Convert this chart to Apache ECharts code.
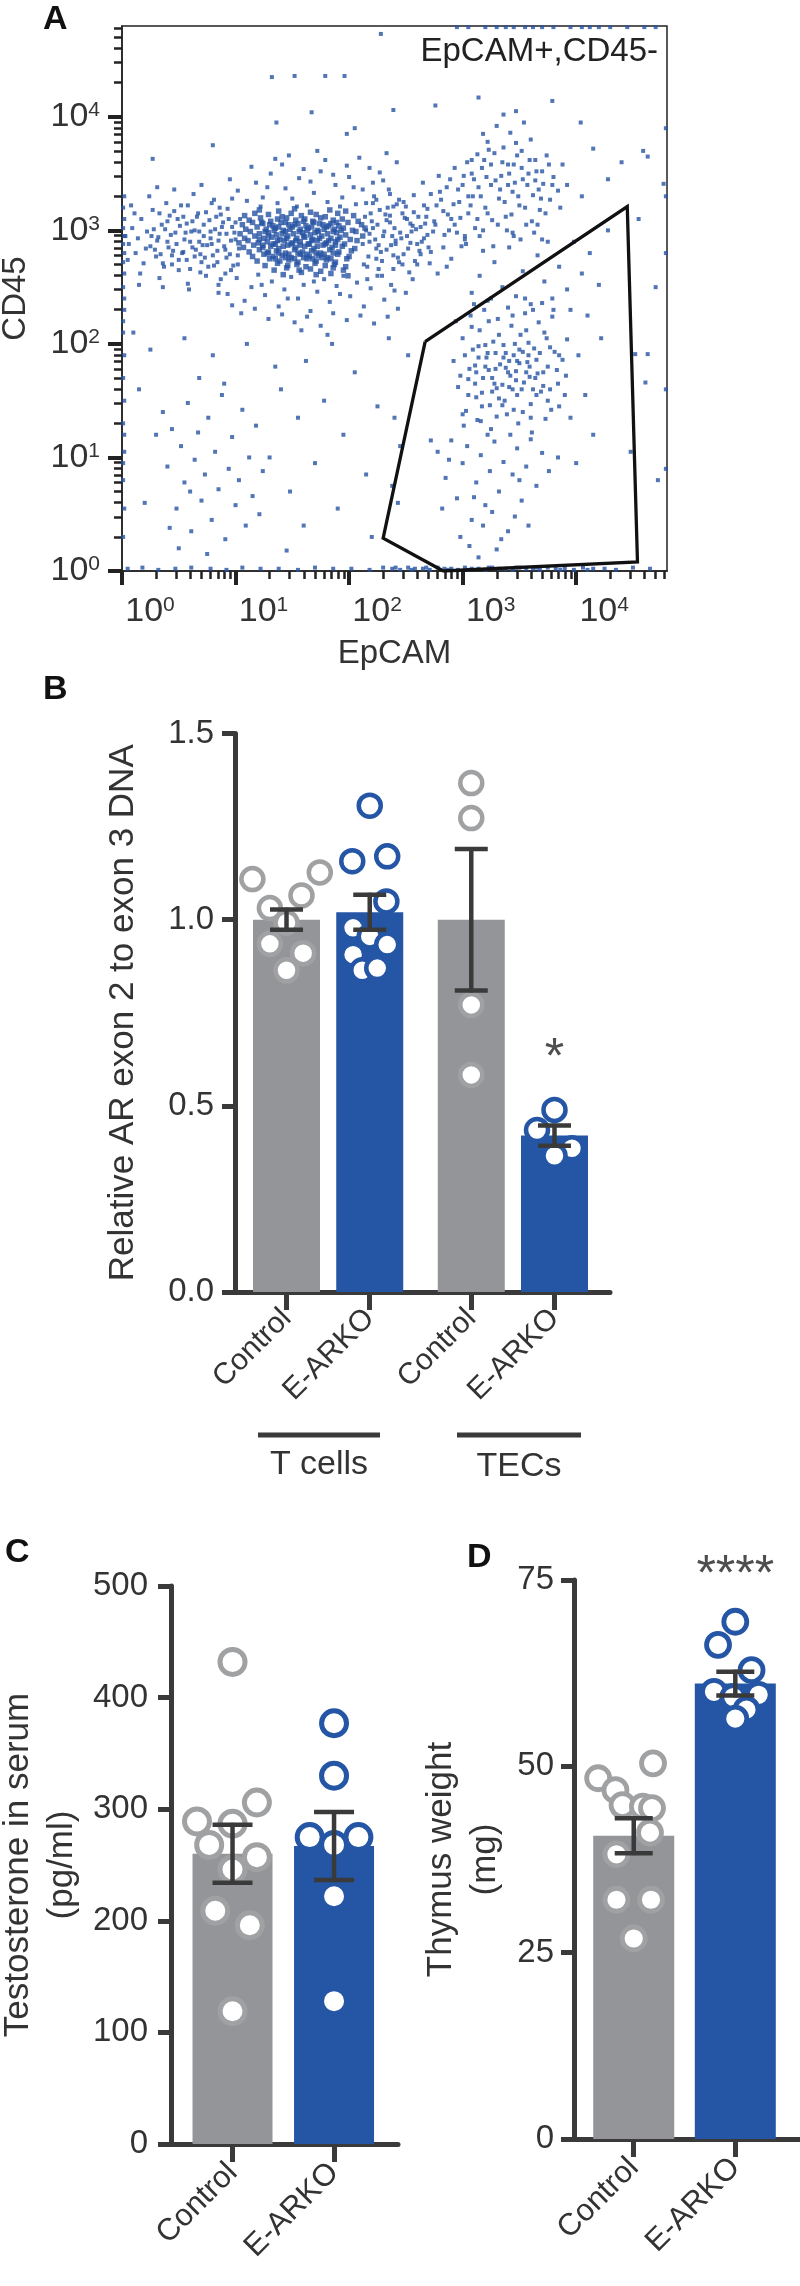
<!DOCTYPE html>
<html><head><meta charset="utf-8">
<script src="https://cdn.jsdelivr.net/npm/echarts@6/dist/echarts.min.js"></script>
<style>html,body{margin:0;padding:0;background:#fff}#c{width:800px;height:2286px}</style>
</head><body><div id="c"></div>
<script>
// ---------- Panel A : flow cytometry events (log10 units: [EpCAM, CD45]) ----------
const decadeTicks = [0, 1, 2, 3, 4];
const flowCore = [1.21,3.18,1.38,3.17,1.52,3.19,1.66,3.16,1.83,3.18,1.97,3.17,
1.08,3.13,1.17,3.15,1.29,3.14,1.41,3.12,1.49,3.15,1.58,3.13,1.71,3.14,1.79,3.12,1.90,3.15,2.04,3.13,
1.12,3.09,1.22,3.11,1.31,3.08,1.37,3.10,1.45,3.11,1.53,3.09,1.61,3.10,1.68,3.08,1.75,3.11,1.86,3.09,1.94,3.10,2.08,3.08,
1.06,3.05,1.15,3.07,1.24,3.06,1.33,3.04,1.40,3.07,1.47,3.05,1.55,3.06,1.62,3.04,1.69,3.07,1.77,3.05,1.84,3.06,1.91,3.04,1.99,3.07,2.11,3.05,
1.09,3.01,1.19,3.03,1.27,3.01,1.35,3.02,1.42,3.00,1.50,3.03,1.57,3.01,1.64,3.02,1.72,3.00,1.80,3.03,1.87,3.01,1.95,3.02,2.03,3.00,2.14,3.02,
1.04,2.97,1.13,2.99,1.21,2.97,1.29,2.98,1.36,2.96,1.44,2.99,1.51,2.97,1.59,2.98,1.66,2.96,1.73,2.99,1.81,2.97,1.89,2.98,1.97,2.96,2.06,2.99,
1.08,2.93,1.17,2.95,1.25,2.93,1.32,2.94,1.39,2.92,1.46,2.95,1.54,2.93,1.61,2.94,1.68,2.92,1.76,2.95,1.84,2.93,1.92,2.94,2.01,2.92,2.12,2.95,
1.03,2.89,1.11,2.91,1.20,2.89,1.28,2.90,1.35,2.88,1.43,2.91,1.50,2.89,1.57,2.90,1.65,2.88,1.72,2.91,1.80,2.89,1.88,2.90,1.96,2.88,2.07,2.91,
1.07,2.85,1.16,2.87,1.24,2.85,1.31,2.86,1.38,2.84,1.46,2.87,1.53,2.85,1.61,2.86,1.69,2.84,1.77,2.87,1.85,2.85,1.94,2.86,2.05,2.84,
1.12,2.81,1.21,2.83,1.29,2.81,1.36,2.82,1.44,2.80,1.52,2.83,1.59,2.81,1.67,2.82,1.75,2.80,1.83,2.83,1.91,2.81,2.02,2.82,
1.15,2.77,1.25,2.79,1.33,2.77,1.41,2.78,1.49,2.76,1.57,2.79,1.65,2.77,1.73,2.78,1.81,2.76,1.90,2.79,2.00,2.77,
1.19,2.73,1.30,2.75,1.39,2.73,1.47,2.74,1.55,2.72,1.63,2.75,1.71,2.73,1.80,2.74,1.88,2.72,1.98,2.75,
1.26,2.69,1.37,2.71,1.46,2.69,1.54,2.70,1.62,2.68,1.70,2.71,1.79,2.69,1.87,2.70,1.97,2.68,
1.34,2.65,1.45,2.67,1.56,2.65,1.66,2.66,1.75,2.64,1.86,2.67,1.95,2.65,
1.42,2.61,1.58,2.63,1.71,2.61,1.84,2.62,1.99,2.60];
const flowCoreFill = [1.23,3.07,1.30,3.05,1.38,3.03,1.44,3.07,1.52,3.05,1.60,3.08,1.67,3.03,1.74,3.06,1.82,3.04,1.89,3.07,
1.26,2.99,1.34,3.00,1.41,2.97,1.48,3.01,1.56,2.99,1.63,3.00,1.70,2.98,1.78,3.01,1.86,2.99,1.93,3.00,
1.21,2.92,1.29,2.95,1.37,2.91,1.45,2.93,1.53,2.91,1.60,2.95,1.67,2.91,1.74,2.93,1.82,2.91,1.90,2.92,
1.24,2.87,1.33,2.88,1.42,2.86,1.49,2.88,1.57,2.87,1.64,2.88,1.72,2.86,1.79,2.88,1.88,2.87,
1.28,2.80,1.38,2.80,1.47,2.79,1.55,2.80,1.63,2.79,1.71,2.80,1.78,2.79,1.86,2.80,
1.35,2.75,1.44,2.76,1.52,2.75,1.60,2.76,1.68,2.75,1.76,2.76,1.84,2.75];
const flowLeft = [0.03,2.95,0.06,2.88,0.09,3.02,0.12,2.80,0.14,2.93,0.17,3.10,0.19,2.71,0.22,2.99,0.25,2.86,0.27,3.18,0.30,2.77,0.32,2.94,0.35,3.05,0.37,2.68,0.40,2.90,0.42,3.13,0.45,2.82,0.47,2.98,0.50,2.74,0.52,3.22,0.55,2.92,0.57,3.06,0.60,2.66,0.62,2.85,0.64,3.00,0.67,3.15,0.69,2.79,0.72,2.95,0.74,2.60,0.77,3.09,0.79,2.88,0.81,3.27,0.84,2.72,0.86,2.97,0.88,3.03,0.91,2.83,0.93,3.19,0.96,2.91,0.98,2.69,1.00,3.07,1.02,2.78,0.05,2.74,0.11,3.15,0.16,2.62,0.21,2.84,0.28,3.01,0.33,2.58,0.39,3.24,0.44,2.70,0.49,3.10,0.54,2.81,0.58,2.53,0.63,3.32,0.68,2.90,0.73,2.76,0.78,2.99,0.83,3.12,0.87,2.57,0.92,2.76,0.97,3.28,0.08,3.22,0.24,3.30,0.36,2.50,0.46,3.36,0.59,2.48,0.70,3.40,0.85,2.45,0.95,3.45,0.15,2.52,0.31,3.38];
const flowLeftMore = [0.31,2.91,0.34,2.79,0.38,3.01,0.41,2.85,0.43,2.96,0.48,2.88,0.51,3.04,0.53,2.80,0.56,2.98,0.60,2.90,0.62,3.08,0.65,2.83,0.68,2.99,0.70,2.72,0.72,3.05,0.75,2.87,0.78,2.93,0.80,2.78,0.82,3.01,0.85,2.91,0.87,3.14,0.90,2.86,0.92,2.97,0.95,2.79,0.97,3.03,1.00,2.92,1.03,2.84,0.36,2.71,0.46,3.17,0.57,2.74,0.66,3.12,0.76,2.68,0.86,3.20,0.96,2.65,1.04,3.10,0.40,3.08,0.50,2.65,0.61,2.99,0.71,2.87,0.81,2.69,0.89,3.07,0.99,2.98,0.44,2.78,0.54,3.12,0.64,2.77,0.74,3.16,0.84,2.82,0.94,3.10,1.02,2.70,0.33,3.15,0.58,3.22,0.79,3.24,0.29,2.83,0.26,2.95,0.69,2.63,0.91,2.62];
const flowAbove = [1.02,3.35,1.10,3.26,1.18,3.42,1.24,3.29,1.31,3.50,1.37,3.24,1.44,3.37,1.50,3.28,1.56,3.46,1.63,3.22,1.69,3.33,1.75,3.52,1.81,3.25,1.88,3.40,1.94,3.29,2.00,3.47,2.06,3.23,2.12,3.36,2.18,3.55,2.24,3.27,2.30,3.44,2.36,3.32,2.42,3.60,2.48,3.25,1.14,3.56,1.28,3.38,1.41,3.58,1.54,3.21,1.66,3.43,1.79,3.62,1.92,3.21,2.04,3.38,2.15,3.24,2.27,3.51,2.39,3.21,1.47,3.66,1.72,3.70,2.09,3.64,2.33,3.68,1.22,3.21,1.60,3.54,1.98,3.57,2.21,3.42,1.35,3.63,1.86,3.49];
const flowBelow = [0.85,2.52,0.93,2.44,1.01,2.58,1.08,2.38,1.14,2.50,1.20,2.61,1.26,2.43,1.32,2.55,1.38,2.33,1.43,2.48,1.49,2.59,1.55,2.40,1.60,2.52,1.66,2.29,1.72,2.46,1.78,2.57,1.83,2.37,1.89,2.51,1.95,2.60,2.01,2.42,2.07,2.54,2.13,2.33,2.19,2.49,2.25,2.60,2.31,2.39,2.37,2.52,2.43,2.31,2.50,2.45,2.56,2.57,1.05,2.27,1.17,2.31,1.29,2.22,1.41,2.26,1.52,2.19,1.63,2.24,1.75,2.16,1.86,2.27,1.98,2.21,2.10,2.25,2.22,2.18,2.34,2.24,0.97,2.34,1.23,2.52,1.46,2.40,1.69,2.55,1.92,2.44,2.16,2.57,2.40,2.47,1.58,2.12,1.81,2.08];
const flowRight = [2.14,3.12,2.18,2.90,2.21,3.02,2.24,2.75,2.27,3.18,2.30,2.95,2.33,2.83,2.36,3.07,2.39,2.66,2.42,3.23,2.45,2.98,2.48,2.79,2.51,3.10,2.54,2.89,2.57,3.31,2.60,2.70,2.63,3.03,2.66,2.93,2.69,3.19,2.72,2.81,2.75,3.08,2.78,2.62,2.81,3.27,2.84,2.96,2.87,3.14,2.90,2.75,2.93,3.05,2.96,3.36,2.99,2.86,2.16,2.68,2.22,3.30,2.29,2.60,2.35,3.36,2.41,2.88,2.47,3.15,2.53,2.63,2.59,3.01,2.65,3.42,2.71,2.71,2.77,3.22,2.83,2.85,2.89,3.45,2.95,2.98,2.20,3.08,2.26,2.87,2.32,3.14,2.38,2.95,2.44,2.72,2.50,3.21,2.56,3.04,2.62,2.82,2.68,3.12,2.74,2.99,2.80,3.34,2.86,2.68,2.92,3.23,2.98,3.11,3.02,2.92,3.05,3.30];
const flowRightMore = [2.12,2.88,2.15,3.00,2.17,2.77,2.19,3.15,2.23,2.92,2.25,3.05,2.28,2.81,2.31,2.99,2.34,3.20,2.37,2.87,2.40,3.02,2.43,2.76,2.46,2.93,2.49,3.11,2.52,2.84,2.55,2.99,2.58,2.73,2.61,3.12,2.64,2.90,2.67,3.06,2.70,2.85,2.13,2.70,2.21,3.24,2.26,2.66,2.33,3.09,2.39,2.78,2.44,3.27,2.51,2.95,2.57,3.16,2.63,2.79,2.69,2.96,2.18,2.97,2.29,2.73,2.36,3.13,2.47,2.70,2.54,3.06,2.60,2.88,2.66,3.22,2.24,2.84,2.41,2.91];
const flowUpper = [3.01,3.48,3.05,3.15,3.08,3.62,3.11,3.02,3.14,3.38,3.17,3.55,3.20,3.20,3.23,3.71,3.26,3.09,3.29,3.44,3.32,3.28,3.35,3.60,3.38,3.12,3.41,3.50,3.44,3.34,3.47,3.77,3.50,3.22,3.53,3.45,3.56,3.05,3.59,3.62,3.62,3.31,3.65,3.52,3.68,3.18,3.71,3.41,3.74,3.66,3.77,3.27,3.80,3.47,3.84,3.35,3.88,3.58,3.03,2.88,3.09,3.30,3.15,2.95,3.21,3.47,3.27,2.86,3.33,3.36,3.39,3.00,3.45,3.58,3.51,2.92,3.57,3.40,3.63,2.98,3.69,3.28,3.75,2.90,3.13,3.67,3.25,3.58,3.36,3.73,3.48,3.66,3.60,3.80,3.18,3.85,3.30,3.92,3.42,3.86,3.54,3.95,3.36,4.02,3.47,4.05,3.22,3.78,3.40,3.40,3.52,3.55,3.64,3.44,3.86,3.20,3.92,3.40,3.08,3.50];
const flowUpperMore = [2.72,3.32,2.76,3.05,2.79,3.48,2.83,3.17,2.86,3.38,2.90,3.10,2.93,3.55,2.97,3.25,3.00,3.40,3.04,3.60,3.07,3.22,3.10,3.45,3.13,3.10,3.16,3.30,3.19,3.62,3.22,3.15,3.25,3.40,3.28,3.68,3.31,3.05,3.34,3.48,3.37,3.25,3.40,3.58,3.43,3.14,3.46,3.42,3.49,3.30,3.52,3.70,3.55,3.20,3.58,3.50,3.61,3.08,3.64,3.62,3.67,3.36,3.70,3.52,3.73,3.15,3.76,3.58,3.79,3.40,2.88,3.00,3.02,2.95,3.18,3.00,3.44,2.98,3.66,3.05];
const gatedDense = [2.92,1.85,2.96,1.62,3.00,2.05,3.03,1.41,3.06,1.78,3.09,1.95,3.12,1.53,3.15,2.12,3.18,1.70,3.21,1.88,3.24,1.46,3.27,2.02,3.30,1.61,3.33,1.82,3.36,1.99,3.39,1.38,3.42,1.72,3.45,1.90,3.48,1.55,3.51,2.08,3.54,1.66,3.57,1.84,3.60,1.47,3.63,1.96,3.66,1.74,3.69,1.58,3.72,2.10,3.75,1.80,3.78,1.42,3.81,1.93,3.84,1.65,3.88,1.86,3.92,2.04,
2.94,2.20,3.01,1.28,3.07,2.25,3.13,1.33,3.19,2.30,3.25,1.25,3.31,2.22,3.37,1.50,3.43,2.16,3.49,1.30,3.55,2.27,3.61,1.22,3.67,2.19,3.73,1.34,3.79,2.24,3.85,1.45,3.91,1.72,
3.05,1.69,3.11,1.81,3.17,1.57,3.23,1.77,3.29,1.92,3.35,1.64,3.41,1.85,3.47,1.76,3.53,1.93,3.59,1.71,3.65,1.86,3.71,1.63,3.77,1.97,3.83,1.77,3.26,1.70,3.38,1.79,3.44,1.60,3.50,1.83,3.56,1.75,3.32,1.52,3.20,1.99,3.62,1.60,3.46,2.00,3.14,1.88,3.58,2.01];
const gatedMore = [2.98,1.72,3.02,1.90,3.05,1.55,3.08,2.15,3.11,1.65,3.14,1.98,3.17,1.45,3.20,1.80,3.23,2.20,3.26,1.58,3.29,1.78,3.32,2.08,3.35,1.46,3.38,1.92,3.41,1.62,3.44,2.25,3.47,1.68,3.50,1.95,3.53,1.40,3.56,2.12,3.59,1.80,3.62,2.30,3.65,1.55,3.68,1.92,3.71,1.75,3.74,2.05,3.77,1.60,3.80,2.30,3.10,2.35,3.25,2.40,3.40,2.32,3.55,2.40,3.70,2.36,3.00,1.38,3.16,1.32,3.30,1.36,3.45,1.42,3.60,1.35,3.75,1.50,3.28,1.65,3.40,1.75,3.52,1.60,3.36,1.88,3.48,1.85,3.22,1.92,3.58,1.90,3.12,1.75,3.64,1.70,3.85,1.90,3.90,1.55];
const gatedTail = [2.78,1.05,2.85,0.82,2.90,1.15,2.95,0.64,3.00,0.95,3.04,1.10,3.08,0.45,3.12,0.78,3.16,1.02,3.20,0.58,3.24,0.88,3.28,1.14,3.32,0.70,3.36,0.96,3.40,0.35,3.44,0.85,3.48,1.08,3.52,0.62,3.56,0.92,3.60,1.16,3.65,0.75,3.70,1.04,3.76,0.88,2.82,0.55,2.98,0.30,3.06,0.22,3.18,0.40,3.26,0.52,3.34,0.28,3.46,0.48,3.58,0.40,3.10,0.65,2.88,0.98,3.42,1.20,3.22,1.20,2.72,1.15,3.84,1.00,3.50,0.80,3.14,0.12,3.30,0.19];
const gatedTop = [3.08,2.45,3.15,2.60,3.22,2.38,3.28,2.72,3.35,2.50,3.41,2.85,3.47,2.42,3.53,2.64,3.60,2.35,3.66,2.78,3.72,2.55,3.79,2.40,3.85,2.68,3.92,2.48,3.98,2.90,4.05,2.62,4.12,2.80,4.20,2.52,4.28,3.00,3.18,2.82,3.45,2.95,3.70,2.92,3.95,2.30,4.10,2.25,4.02,1.90,4.08,1.55,4.15,1.20,4.22,2.05,3.95,1.35,4.00,0.95];
const lowerLeft = [0.36,1.40,0.40,0.92,0.44,1.25,0.48,0.55,0.52,1.10,0.55,0.78,0.58,1.48,0.61,0.35,0.64,0.98,0.67,1.22,0.70,0.62,0.73,0.85,0.76,1.35,0.79,0.45,0.82,1.05,0.85,0.72,0.88,1.55,0.91,0.28,0.94,0.90,0.97,1.18,1.00,0.58,1.03,0.80,1.06,1.42,1.09,0.40,1.12,1.00,1.15,0.66,1.18,1.28,1.21,0.50,1.24,0.88,0.42,0.38,0.50,0.20,0.60,0.70,0.68,1.70,0.80,1.90,0.90,1.65,1.30,1.00,1.40,1.60,1.48,0.70,1.55,1.35,1.62,1.85,1.70,0.95,1.78,1.50,1.85,2.00,1.95,1.20,2.05,1.75,2.15,0.85,2.25,1.45,2.35,2.05,2.40,1.35,2.45,1.10,2.52,1.90,2.38,0.75,2.43,0.60,0.25,1.95,0.30,1.20,0.20,0.60,0.15,1.60,0.10,2.10,0.55,2.05,1.10,2.00,1.35,1.80,1.60,0.40,1.90,0.55,2.20,0.30,0.75,0.15,1.45,0.18];
const outliers = [1.32,4.35,1.52,4.36,1.79,4.36,1.96,4.36,1.67,4.04,1.36,3.95,1.98,3.85,2.39,4.06,2.28,4.73,0.27,3.63,3.14,4.17,3.79,4.14,2.76,4.10,4.04,3.95,4.59,3.70,4.63,3.65,4.77,3.41,4.61,1.66,4.52,1.91,4.63,1.91,4.48,1.05,4.55,3.10,4.70,2.50,4.72,0.80,4.40,3.60,4.28,3.45,4.15,3.72,4.05,3.30,2.05,3.90,0.80,3.75];
const edgeBottom = [0.05,0.02,0.18,0.03,0.32,0.01,0.47,0.02,0.61,0.03,0.78,0.02,0.92,0.01,1.06,0.03,1.22,0.02,1.38,0.02,1.55,0.01,1.70,0.03,1.86,0.02,2.02,0.02,2.18,0.01,2.30,0.03,2.38,0.02,2.45,0.01,2.52,0.03,2.58,0.02,2.65,0.02,2.71,0.01,2.78,0.03,2.84,0.02,2.90,0.02,2.96,0.01,3.02,0.03,3.08,0.02,3.14,0.02,3.20,0.01,3.26,0.03,3.32,0.02,3.38,0.02,3.44,0.01,3.50,0.03,3.56,0.02,3.62,0.02,3.68,0.01,3.75,0.03,3.82,0.02,3.90,0.02,3.98,0.01,4.06,0.03,4.15,0.02,4.25,0.02,4.35,0.01,4.50,0.03,4.65,0.02,2.41,0.03,2.55,0.01,2.68,0.03,2.87,0.01,3.05,0.01,3.23,0.03,3.47,0.03,3.65,0.03,3.86,0.01,4.10,0.01];
const edgeLeft = [0.01,0.30,0.02,0.55,0.01,0.80,0.02,1.05,0.01,1.30,0.02,1.50,0.01,1.70,0.02,1.90,0.01,2.10,0.02,2.30,0.01,2.50,0.02,2.62,0.01,2.72,0.02,2.80,0.01,2.88,0.02,2.95,0.01,3.02,0.02,3.10,0.01,3.20,0.02,3.30,0.01,2.20,0.02,1.20,0.01,0.95,0.02,2.40];
const edgeTopRight = [2.95,4.79,3.05,4.79,3.20,4.79,3.30,4.79,3.45,4.79,3.55,4.79,3.70,4.79,3.80,4.79,3.95,4.79,4.05,4.79,4.20,4.79,4.30,4.79,4.45,4.79,4.60,4.79,4.70,4.79,3.62,4.79,3.38,4.79,4.12,4.79,4.79,3.30,4.79,2.80,4.79,1.60,4.79,0.90,4.79,3.90];
const gateVertices = [[2.67,2.02],[4.45,3.21],[4.54,0.08],[2.83,0.00],[2.30,0.29],[2.67,2.02]];

// ---------- Panel B ----------
const bCats = ['Control', 'E-ARKO', 'Control', 'E-ARKO'];
const bMeans = [1.00, 1.02, 1.00, 0.42];
const bSem = [0.027, 0.047, 0.19, 0.027];
const bPoints = [
  [1.109, 1.031, 1.065, 1.127, 0.992, 0.935, 0.910, 0.864],
  [1.306, 1.157, 1.170, 1.049, 0.978, 0.955, 0.933, 0.906, 0.864, 0.870],
  [1.367, 1.273, 0.771, 0.583],
  [0.489, 0.435, 0.386, 0.366]];
const bGroups = ['T cells', 'TECs'];
const bSig = [null, null, null, '*'];

// ---------- Panel C ----------
const cCats = ['Control', 'E-ARKO'];
const cMeans = [260, 267];
const cSem = [26, 30.5];
const cPoints = [
  [432, 289, 306, 287, 268, 257, 246, 209, 196, 119],
  [377, 330, 275, 268, 275, 222, 128]];

// ---------- Panel D ----------
const dCats = ['Control', 'E-ARKO'];
const dMeans = [40.7, 61.1];
const dSem = [2.35, 1.6];
const dPoints = [
  [50.4, 48.4, 46.8, 44.8, 44.6, 44.4, 41.1, 38.2, 32.1, 32.1, 26.9],
  [69.4, 66.3, 62.9, 60.0, 59.3, 59.6, 57.6, 56.4]];
const dSig = [null, '****'];

// ---------- layout (not data) ----------
const bPos = [0, 1, 2.22, 3.22];
const cPos = [0, 1];
const bJitter = [[-0.41,-0.2,0.18,0.4,0,-0.2,0.2,0],[0,-0.21,0.21,0.2,-0.2,0,0.21,-0.2,-0.09,0.09],[0,0,0,0],[0,-0.21,0.21,0]];
const cJitter = [[0,-0.35,0.24,0,-0.23,0.24,0,-0.17,0.17,0],[0,0,-0.24,0,0.24,0,0]];
const dJitter = [[0.19,-0.35,-0.18,-0.11,0.09,0.18,0.16,-0.17,-0.17,0.17,0],[0,-0.17,0.16,-0.21,-0.02,0.23,0.11,0]];

const FONT = '"Liberation Sans", Arial, Helvetica, sans-serif';
const TXT = '#333';
const AX = '#3a3a3a';
const GRAY = '#939598', RING = '#a0a1a3', BLUE = '#2556a5';
const DOT = '#2553a2';

function pairs(flat){const o=[];for(let i=0;i<flat.length;i+=2)o.push([flat[i],flat[i+1]]);return o;}
const coreData = [].concat(pairs(flowCore),pairs(flowCoreFill));
const flowData = [].concat(pairs(flowLeft),pairs(flowLeftMore),pairs(flowAbove),pairs(flowBelow),
  pairs(flowRight),pairs(flowRightMore),pairs(flowUpper),pairs(flowUpperMore),pairs(gatedDense),pairs(gatedMore),pairs(gatedTail),
  pairs(gatedTop),pairs(lowerLeft),pairs(outliers),pairs(edgeBottom),pairs(edgeLeft),pairs(edgeTopRight));
const minorTicks = [];
for (let n=0;n<5;n++) for (let k=2;k<10;k++){const v=n+Math.log10(k); if(v<4.8) minorTicks.push(v);}

const sup = v => '{b|10}{s|' + v + '}';
const supRich = {b:{fontSize:34,fontFamily:FONT,color:TXT}, s:{fontSize:21,fontFamily:FONT,color:TXT,verticalAlign:'top'}};

function nameAt(pos, cats){return v => {let bi=0;pos.forEach((p,i)=>{if(Math.abs(p-v)<Math.abs(pos[bi]-v))bi=i;});return cats[bi];};}

function catX(grid, min, max, pos, cats, fs, margin){
  return {gridIndex:grid,type:'value',min:min,max:max,
    axisLine:{show:true,onZero:false,lineStyle:{color:AX,width:5}},
    axisTick:{show:true,customValues:pos,length:18,lineStyle:{color:AX,width:5}},
    axisLabel:{show:true,customValues:pos,formatter:nameAt(pos,cats),rotate:45,margin:margin,fontSize:fs,fontFamily:FONT,color:TXT},
    splitLine:{show:false}};
}
function valY(grid, max, interval, fmt, name, gap, margin){
  return {gridIndex:grid,type:'value',min:0,max:max,interval:interval,
    axisLine:{show:true,onZero:false,lineStyle:{color:AX,width:5}},
    axisTick:{show:true,length:13,lineStyle:{color:AX,width:5}},
    axisLabel:{formatter:fmt,fontSize:33,fontFamily:FONT,color:TXT,margin:margin},
    splitLine:{show:false},
    name:name,nameLocation:'middle',nameGap:gap,nameRotate:90,
    nameTextStyle:{fontSize:35,fontFamily:FONT,color:TXT,lineHeight:44,align:'center'}};
}
function errRender(cap){return function(params, api){
  const x=api.value(0), m=api.value(1), e=api.value(2);
  const t=api.coord([x,m+e]), b=api.coord([x,m-e]);
  const st={stroke:AX,lineWidth:4.5};
  return {type:'group',children:[
    {type:'line',shape:{x1:t[0],y1:t[1]-2,x2:b[0],y2:b[1]+2},style:st},
    {type:'line',shape:{x1:t[0]-cap,y1:t[1],x2:t[0]+cap,y2:t[1]},style:st},
    {type:'line',shape:{x1:b[0]-cap,y1:b[1],x2:b[0]+cap,y2:b[1]},style:st}]};
};}
function barSeries(ax, pos, means, width){
  return {type:'bar',xAxisIndex:ax,yAxisIndex:ax,barWidth:width,z:2,
    data:pos.map((p,i)=>({value:[p,means[i]],itemStyle:{color:i%2?BLUE:GRAY}}))};
}
function pointSeries(ax, pos, pts, jit, size, bw){
  const out=[];
  [0,1].forEach(g=>{
    const data=[];
    pos.forEach((p,i)=>{ if(i%2!==g) return; pts[i].forEach((v,j)=>data.push([p+jit[i][j],v])); });
    out.push({type:'scatter',xAxisIndex:ax,yAxisIndex:ax,z:3,symbol:'circle',symbolSize:size,data:data,
      itemStyle:{color:'#fff',borderColor:g?BLUE:RING,borderWidth:bw,opacity:1}});
  });
  return out;
}
function errSeries(ax, pos, means, sem, cap){
  return {type:'custom',xAxisIndex:ax,yAxisIndex:ax,z:10,renderItem:errRender(cap),
    encode:{x:0,y:1},data:pos.map((p,i)=>[p,means[i],sem[i]])};
}
function sigSeries(ax, marks){
  return {type:'scatter',xAxisIndex:ax,yAxisIndex:ax,z:11,symbolSize:1,itemStyle:{color:'rgba(0,0,0,0)'},clip:false,
    data:marks.map(m=>({value:[m[0],m[1]],label:{show:true,position:'inside',formatter:m[2],fontSize:50,fontFamily:FONT,color:'#222'}}))};
}

const chart = echarts.init(document.getElementById('c'), null, {renderer:'canvas'});
const option = {
  animation:false,
  backgroundColor:'#fff',
  grid:[
    {left:122,top:26,width:545,height:545,show:true,borderColor:'#222',borderWidth:1.5,outerBoundsMode:'none'},
    {left:235,top:733.5,width:375,height:558.5,outerBoundsMode:'none'},
    {left:171,top:1586,width:227,height:558,outerBoundsMode:'none'},
    {left:574,top:1580,width:226,height:559,outerBoundsMode:'none'}],
  xAxis:[
    {gridIndex:0,type:'value',min:0,max:4.8,position:'bottom',
      axisLine:{show:true,onZero:false,lineStyle:{color:'#222',width:1.5}},
      axisTick:{show:true,customValues:decadeTicks,length:14,lineStyle:{color:'#222',width:4}},
      axisLabel:{show:true,customValues:decadeTicks,margin:24,padding:[0,0,0,56],formatter:sup,rich:supRich},
      splitLine:{show:false},name:'EpCAM',nameLocation:'middle',nameGap:66,
      nameTextStyle:{fontSize:33,fontFamily:FONT,color:TXT}},
    {gridIndex:0,type:'value',min:0,max:4.8,position:'bottom',axisLine:{show:false},axisLabel:{show:false},
      axisTick:{show:true,customValues:minorTicks,length:8,lineStyle:{color:'#222',width:2.5}},splitLine:{show:false}},
    catX(1,-0.619,3.887,bPos,bCats,30,22),
    catX(2,-0.606,1.63,cPos,cCats,31,24),
    catX(3,-0.588,1.637,cPos,dCats,31,24)],
  yAxis:[
    {gridIndex:0,type:'value',min:0,max:4.8,position:'left',
      axisLine:{show:true,onZero:false,lineStyle:{color:'#222',width:1.5}},
      axisTick:{show:true,customValues:decadeTicks,length:14,lineStyle:{color:'#222',width:4}},
      axisLabel:{show:true,customValues:decadeTicks,margin:22,formatter:sup,rich:supRich},
      splitLine:{show:false},name:'CD45',nameLocation:'middle',nameGap:90,nameRotate:90,
      nameTextStyle:{fontSize:33,fontFamily:FONT,color:TXT}},
    {gridIndex:0,type:'value',min:0,max:4.8,position:'left',axisLine:{show:false},axisLabel:{show:false},
      axisTick:{show:true,customValues:minorTicks,length:8,lineStyle:{color:'#222',width:2.5}},splitLine:{show:false}},
    valY(1,1.5,0.5,v=>v.toFixed(1),'Relative AR exon 2 to exon 3 DNA',90,21),
    valY(2,500,100,v=>String(v),'Testosterone in serum\n(pg/ml)',87,23),
    valY(3,75,25,v=>String(v),'Thymus weight\n(mg)',67,20)],
  series:[
    {type:'scatter',xAxisIndex:0,yAxisIndex:0,data:flowData,symbol:'rect',symbolSize:4,silent:true,
      itemStyle:{color:DOT},z:2},
    {type:'scatter',xAxisIndex:0,yAxisIndex:0,data:coreData,symbol:'rect',symbolSize:5.5,silent:true,
      itemStyle:{color:DOT},z:2},
    {type:'line',xAxisIndex:0,yAxisIndex:0,data:gateVertices,symbol:'none',z:5,
      lineStyle:{color:'#111',width:3.3,join:'miter'}},
    barSeries(2,bPos,bMeans,67),
    ...pointSeries(2,bPos,bPoints,bJitter,22,4.5),
    errSeries(2,bPos,bMeans,bSem,16.5),
    sigSeries(2,[[bPos[3],0.626,bSig[3]]]),
    barSeries(3,cPos,cMeans,80),
    ...pointSeries(3,cPos,cPoints,cJitter,25,5),
    errSeries(3,cPos,cMeans,cSem,20),
    barSeries(4,cPos,dMeans,81),
    ...pointSeries(4,cPos,dPoints,dJitter,23,4.8),
    errSeries(4,cPos,dMeans,dSem,19),
    sigSeries(4,[[cPos[1],75.5,dSig[1]]])
  ],
  graphic:[
    {type:'text',left:43,top:3,style:{text:'A',font:'bold 34px '+FONT,fill:'#111'}},
    {type:'text',left:43,top:673,style:{text:'B',font:'bold 34px '+FONT,fill:'#111'}},
    {type:'text',left:5,top:1536,style:{text:'C',font:'bold 34px '+FONT,fill:'#111'}},
    {type:'text',left:467,top:1541,style:{text:'D',font:'bold 34px '+FONT,fill:'#111'}},
    {type:'text',x:658,y:52,style:{text:'EpCAM+,CD45-',font:'33px '+FONT,fill:'#222',align:'right',verticalAlign:'middle'}},
    {type:'line',shape:{x1:258,y1:1435,x2:380,y2:1435},style:{stroke:AX,lineWidth:5}},
    {type:'line',shape:{x1:457,y1:1435,x2:581,y2:1435},style:{stroke:AX,lineWidth:5}},
    {type:'text',x:319,y:1465,style:{text:bGroups[0],font:'34px '+FONT,fill:TXT,align:'center',verticalAlign:'middle'}},
    {type:'text',x:519,y:1467,style:{text:bGroups[1],font:'34px '+FONT,fill:TXT,align:'center',verticalAlign:'middle'}}
  ]
};
chart.setOption(option);
</script></body></html>
